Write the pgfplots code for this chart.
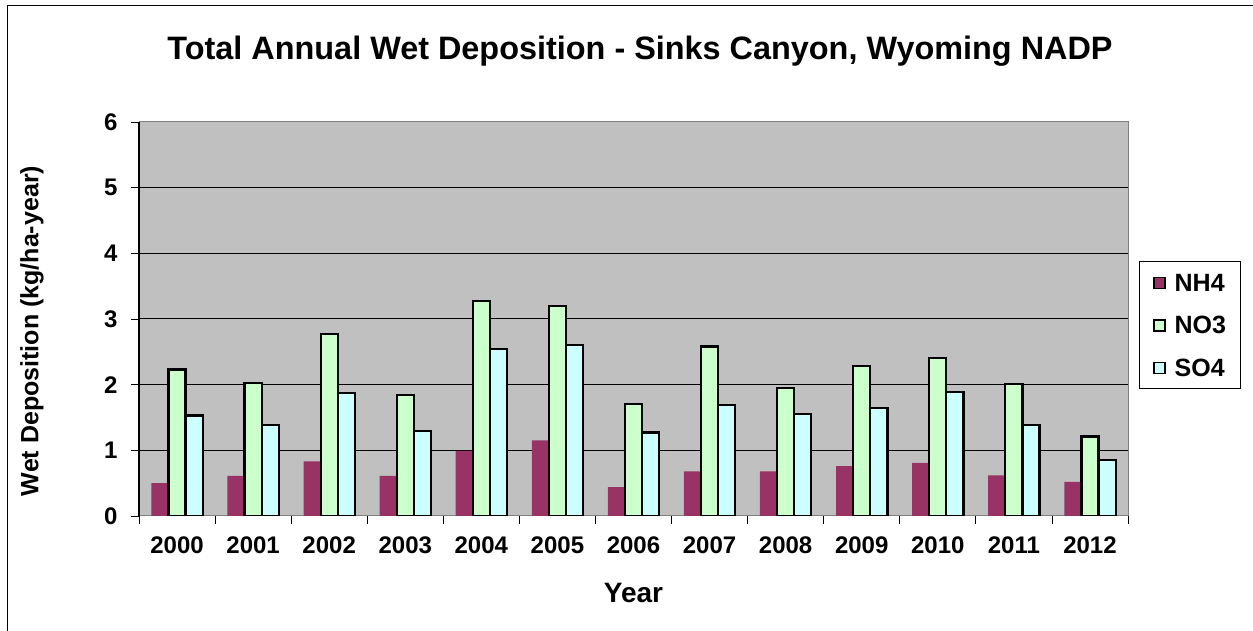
\documentclass[border=0pt]{standalone}
\usepackage{fontspec}
\setmainfont{Liberation Sans}
\usepackage{pgfplots}
\pgfplotsset{compat=1.18}
\usepackage{pgfplotstable}

\definecolor{nhcol}{HTML}{993366}
\definecolor{nocol}{HTML}{CCFFCC}
\definecolor{socol}{HTML}{CCFFFF}
\definecolor{plotbg}{HTML}{C0C0C0}

% Annual wet deposition (kg/ha-year) at Sinks Canyon
\pgfplotstableread{
idx year nh4  no3  so4
0   2000 0.50 2.23 1.53
1   2001 0.61 2.03 1.38
2   2002 0.83 2.77 1.87
3   2003 0.61 1.84 1.29
4   2004 0.99 3.27 2.54
5   2005 1.15 3.20 2.61
6   2006 0.44 1.71 1.27
7   2007 0.68 2.58 1.69
8   2008 0.68 1.95 1.55
9   2009 0.76 2.28 1.65
10  2010 0.81 2.41 1.89
11  2011 0.62 2.01 1.39
12  2012 0.52 1.21 0.85
}\deposition

\begin{document}
\begin{tikzpicture}[x=1pt,y=1pt]
\useasboundingbox (0,0) rectangle (1253,631);
\draw[line width=1.2pt] (7.5,0) -- (7.5,625.5) -- (1253,625.5);

\node[font=\bfseries\fontsize{32.4}{32.4}\selectfont] at (640,580) {Total Annual Wet Deposition - Sinks Canyon, Wyoming NADP};
\node[font=\bfseries\fontsize{25}{25}\selectfont, rotate=90] at (32,300) {Wet Deposition (kg/ha-year)};

\begin{axis}[
  at={(139pt,115pt)}, anchor=south west,
  scale only axis, width=989pt, height=394pt,
  xmin=-0.5, xmax=12.5, ymin=0, ymax=6,
  ybar, bar width=0.225,
  axis background/.style={fill=plotbg},
  axis line style={draw=gray, line width=1pt},
  ymajorgrids, grid style={black, line width=1pt},
  ytick={0,...,6},
  tick align=outside, tick pos=left, major tick length=8pt,
  ytick style={black, line width=0.8pt},
  xtick={0,...,12},
  xticklabels={2000,2001,2002,2003,2004,2005,2006,2007,2008,2009,2010,2011,2012},
  xtick style={draw=none},
  extra x ticks={-0.5,0.5,...,12.5},
  extra x tick labels={},
  extra x tick style={grid=none, xtick style={draw=black, line width=0.8pt}},
  /pgf/number format/assume math mode=true,
  ticklabel style={font=\bfseries\fontsize{24}{24}\selectfont},
  yticklabel style={xshift=-10pt},
  xticklabel style={yshift=-9pt},
  xlabel={Year},
  xlabel style={font=\bfseries\fontsize{28}{28}\selectfont, yshift=-7pt},
  legend style={
    at={(1.0111,0.6472)}, anchor=north west,
    draw=black, line width=1pt, fill=white,
    font=\bfseries\fontsize{25}{25}\selectfont,
    inner xsep=14pt, inner ysep=12pt,
    nodes={inner sep=0pt, text height=18pt, text depth=0pt, anchor=west},
    row sep=24.5pt, column sep=9pt,
  },
  legend image code/.code={\draw[#1, line width=1.2pt] (0pt,-6pt) rectangle (11pt,5pt);},
  after end axis/.code={\draw[black, line width=1.2pt] (rel axis cs:0,0) -- (rel axis cs:0,1);},
]
\addplot[fill=nhcol, draw=none, bar shift=-0.225] table[x=idx, y=nh4] {\deposition};
\addplot[fill=nocol, draw=black, line width=2.2pt, bar shift=0] table[x=idx, y=no3] {\deposition};
\addplot[fill=socol, draw=black, line width=2.2pt, bar shift=0.225] table[x=idx, y=so4] {\deposition};
\legend{NH4, NO3, SO4}
\end{axis}
\end{tikzpicture}
\end{document}
